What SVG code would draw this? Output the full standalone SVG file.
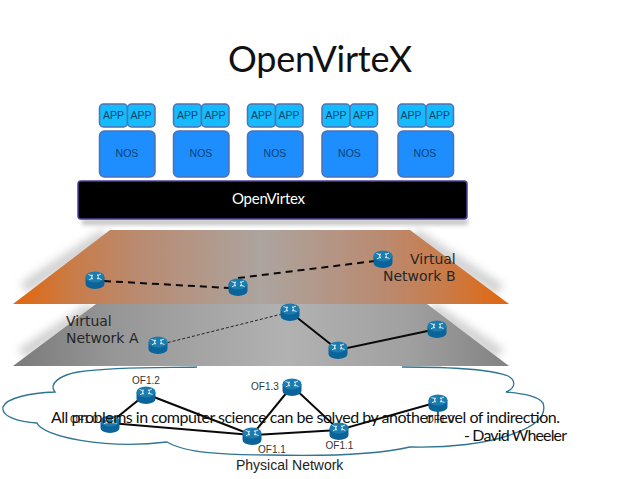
<svg xmlns="http://www.w3.org/2000/svg" width="638" height="479" viewBox="0 0 638 479">
<style>
.app{fill:#14bcff;stroke:#5070b0;stroke-width:1.500}
.nos{fill:#1e8eff;stroke:#5070b0;stroke-width:1.500}
.t{font-family:"Liberation Sans",Arial,sans-serif;fill:#0b4270;text-anchor:middle;font-size:10.500px}
.of{font-family:"Liberation Sans",Arial,sans-serif;font-size:10px;fill:#333;text-anchor:middle}
.vn{font-family:"DejaVu Sans",sans-serif;font-size:14px;fill:#262626}
.c{font-family:Lato,"Open Sans",sans-serif;fill:#111}
.k{stroke:#0a0a0a;stroke-width:2;fill:none}
.sh{stroke:#d0d0d0;stroke-width:12;fill:none}
</style>
<defs>
<linearGradient id="or" x1="0" x2="1" y1="0" y2="0">
<stop offset="0" stop-color="#e2660c"/><stop offset=".12" stop-color="#c97c48"/><stop offset=".25" stop-color="#b98a70"/><stop offset=".5" stop-color="#aca49f"/><stop offset=".75" stop-color="#ba8a70"/><stop offset=".88" stop-color="#cb7a44"/><stop offset="1" stop-color="#e2660c"/>
</linearGradient>
<linearGradient id="gr" x1="0" x2="1" y1="0" y2="0">
<stop offset="0" stop-color="#7a7a7a"/><stop offset=".2" stop-color="#969696"/><stop offset=".55" stop-color="#b2b2b2"/><stop offset=".8" stop-color="#a0a0a0"/><stop offset="1" stop-color="#828282"/>
</linearGradient>
<filter id="b" x="-30%" y="-30%" width="160%" height="160%"><feGaussianBlur stdDeviation="4"/></filter>
<filter id="s" x="-5%" y="-100%" width="110%" height="300%"><feGaussianBlur stdDeviation="2"/></filter>
<g id="router">
<path d="M-9.500-3v7a9.500 5 0 0 0 19 0V-3z" fill="#0a6399"/>
<ellipse cx="0" cy="-3" rx="9.500" ry="5.500" fill="#1c7cae"/>
<path d="M-6.500-5.500l4 1.500M-4-3.500l1.500-.5-.5-1.500M6.500-.5l-4-1.500M4-2.500l-1.500.5.5 1.500M6-6L2.500-4.300M4-3.800L2.500-4.300 3-5.800M-6-.2L-2.500-2M-4-2.500L-2.500-2-3-.5" stroke="#e4f0f6" stroke-width=".9" fill="none"/>
</g>
</defs>

<g id="planes">
<path class="sh" d="M106 234L24 288" filter="url(#b)"/>
<path class="sh" d="M414 234L500 290" filter="url(#b)"/>
<path class="sh" d="M92 308L22 354" filter="url(#b)"/>
<path class="sh" d="M431 308L500 354" filter="url(#b)"/>
<polygon id="plane-b" points="110,230 410,230 509,304 13,304" fill="url(#or)"/>
<polygon id="plane-a" points="96,304 427,304 509,366 13,366" fill="url(#gr)"/>
</g>

<g id="cloud">
<path d="M197 367C175 368 120 366 78 372C60 375 48 384 55 392C30 393 6 398 3 407C1 417 20 422 37 423C42 436 105 450 167 442C185 453 225 455 270 455C310 456 370 456 410 447C445 448 490 444 515 433C530 428 548 418 543 403C538 396 525 394 506 392C516 388 516 380 508 376C490 369 450 367 402 367" fill="#fff" stroke="#2f7490" stroke-width="1.300"/>
</g>

<g id="connectors">
<path class="k" d="M104 281L230 288M238 278L383 260" stroke-dasharray="7 5"/>
<path d="M158 345L290 312" stroke="#222" stroke-width="1" stroke-dasharray="3 2" fill="none"/>
<path class="k" d="M290 312L338 350L437 329"/>
<path class="k" d="M110 423L146 394L252 435L292 386L339 430L438 402M110 423L252 435L339 430"/>
</g>

<g id="stack-1"><rect class="app" x="99.500" y="104" width="28" height="23" rx="4"/><rect class="app" x="127.500" y="104" width="27.500" height="23" rx="4"/><rect class="nos" x="99.500" y="131" width="55.500" height="46" rx="5"/><text class="t" x="113.500" y="119">APP</text><text class="t" x="141" y="119">APP</text><text class="t" x="127" y="157">NOS</text></g>
<g id="stack-2"><rect class="app" x="173.500" y="104" width="28" height="23" rx="4"/><rect class="app" x="201.500" y="104" width="27.500" height="23" rx="4"/><rect class="nos" x="173.500" y="131" width="55.500" height="46" rx="5"/><text class="t" x="187.500" y="119">APP</text><text class="t" x="215" y="119">APP</text><text class="t" x="201" y="157">NOS</text></g>
<g id="stack-3"><rect class="app" x="247.500" y="104" width="28" height="23" rx="4"/><rect class="app" x="275.500" y="104" width="27.500" height="23" rx="4"/><rect class="nos" x="247.500" y="131" width="55.500" height="46" rx="5"/><text class="t" x="261.500" y="119">APP</text><text class="t" x="289" y="119">APP</text><text class="t" x="275" y="157">NOS</text></g>
<g id="stack-4"><rect class="app" x="322" y="104" width="28" height="23" rx="4"/><rect class="app" x="350" y="104" width="27.500" height="23" rx="4"/><rect class="nos" x="322" y="131" width="55.500" height="46" rx="5"/><text class="t" x="336" y="119">APP</text><text class="t" x="363.500" y="119">APP</text><text class="t" x="349.500" y="157">NOS</text></g>
<g id="stack-5"><rect class="app" x="398" y="104" width="28" height="23" rx="4"/><rect class="app" x="426" y="104" width="27.500" height="23" rx="4"/><rect class="nos" x="398" y="131" width="55.500" height="46" rx="5"/><text class="t" x="411" y="119">APP</text><text class="t" x="439.500" y="119">APP</text><text class="t" x="425" y="157">NOS</text></g>

<g id="openvirtex-bar">
<rect x="82" y="219" width="386" height="6" fill="#c4c4c4" filter="url(#s)"/>
<rect x="78" y="181" width="389" height="38" rx="3" fill="#000" stroke="#4b3f9a" stroke-width="1.500"/>
<text class="c" x="232" y="204" font-size="15" style="fill:#fff" textLength="73">OpenVirtex</text>
</g>

<g id="routers">
<use href="#router" x="95" y="280"/><use href="#router" x="238" y="287"/><use href="#router" x="383" y="259"/>
<use href="#router" x="158" y="345"/><use href="#router" x="290" y="312"/><use href="#router" x="338" y="350"/><use href="#router" x="437" y="329"/>
<use href="#router" x="110" y="424"/><use href="#router" x="146" y="395"/><use href="#router" x="252" y="436"/><use href="#router" x="292" y="387"/><use href="#router" x="339" y="431"/><use href="#router" x="438" y="403"/>
</g>

<g id="labels">
<text class="vn" x="410" y="264">Virtual</text>
<text class="vn" x="383" y="281">Network B</text>
<text class="vn" x="66" y="326">Virtual</text>
<text class="vn" x="66" y="343">Network A</text>
<text class="of" x="146" y="384">OF1.2</text>
<text class="of" x="265" y="390">OF1.3</text>
<text class="of" x="84" y="423">OF1.0</text>
<text class="of" x="272" y="453">OF1.1</text>
<text class="of" x="339.500" y="449">OF1.1</text>
<text class="of" x="440" y="423">OF1.0</text>
<text x="236" y="470" font-family="Liberation Sans,Arial,sans-serif" font-size="14" fill="#222">Physical Network</text>
</g>

<g id="caption">
<text class="c" x="228" y="72" font-size="36" textLength="184">OpenVirteX</text>
<text class="c" x="51" y="423" font-size="16" textLength="509">All problems in computer science can be solved by another level of indirection.</text>
<text class="c" x="464" y="441" font-size="16" textLength="103">- David Wheeler</text>
</g>
</svg>
